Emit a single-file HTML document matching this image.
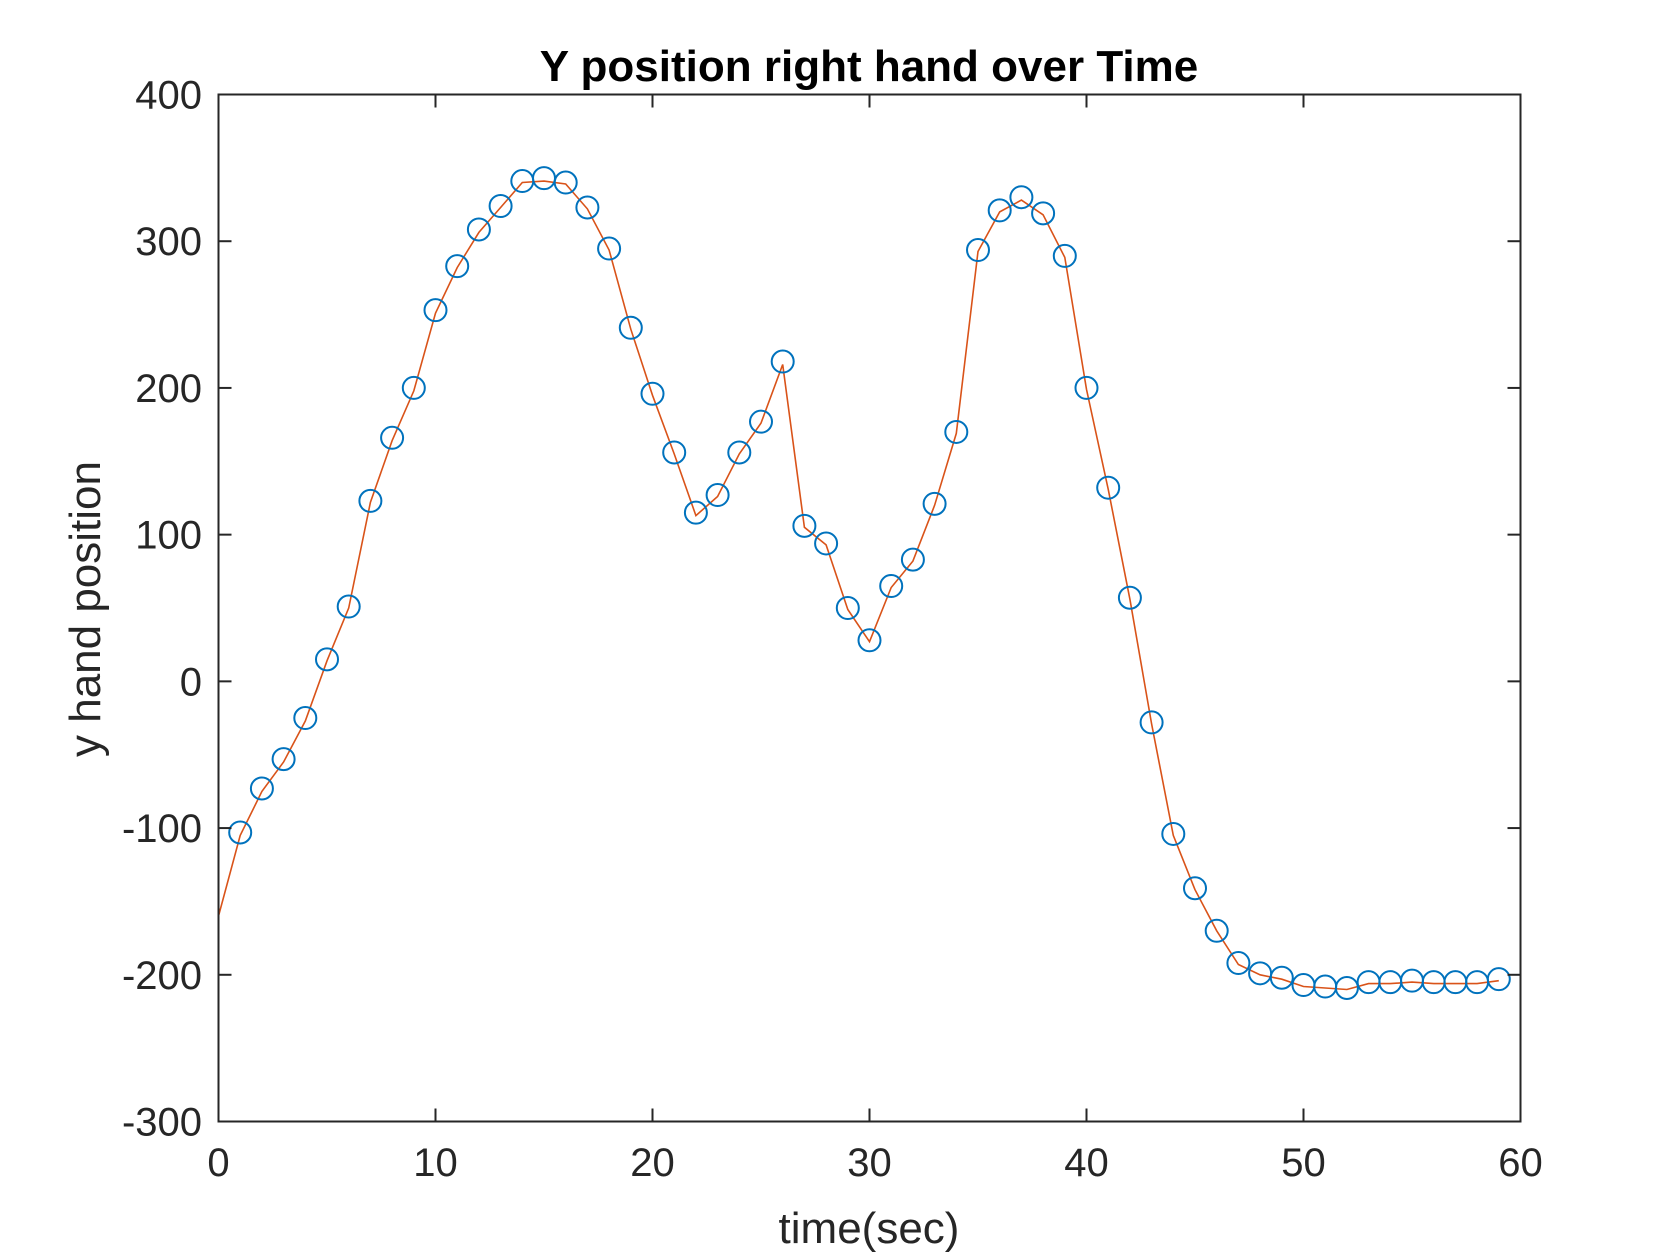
<!DOCTYPE html>
<html><head><meta charset="utf-8"><style>
html,body{margin:0;padding:0;background:#fff;}
svg{display:block;font-family:"Liberation Sans",Arial,sans-serif;}
</style></head><body>
<svg id="chart" width="1680" height="1260" viewBox="0 0 1680 1260">
<rect width="1680" height="1260" fill="#fff"/>
<g id="grid"></g>
<g id="series"></g>
<rect x="218.5" y="94.5" width="1302" height="1027" fill="none" stroke="#262626" stroke-width="2"/>
<g id="axes"></g>
<text x="869" y="81" text-anchor="middle" font-size="44" font-weight="bold" fill="#000">Y position right hand over Time</text>
<text x="869" y="1243" text-anchor="middle" font-size="44" fill="#262626">time(sec)</text>
<text transform="translate(100,609) rotate(-90)" text-anchor="middle" font-size="44" fill="#262626">y hand position</text>
</svg>
<script>
const circleX = [1,2,3,4,5,6,7,8,9,10,11,12,13,14,15,16,17,18,19,20,21,22,23,24,25,26,27,28,29,30,31,32,33,34,35,36,37,38,39,40,41,42,43,44,45,46,47,48,49,50,51,52,53,54,55,56,57,58,59];
const circleY = [-103,-73,-53,-25,15,51,123,166,200,253,283,308,324,341,343,340,323,295,241,196,156,115,127,156,177,218,106,94,50,28,65,83,121,170,294,321,330,319,290,200,132,57,-28,-104,-141,-170,-192,-199,-202,-207,-208,-209,-205,-205,-204,-205,-205,-205,-203];
const lineX = [0,1,2,3,4,5,6,7,8,9,10,11,12,13,14,15,16,17,18,19,20,21,22,23,24,25,26,27,28,29,30,31,32,33,34,35,36,37,38,39,40,41,42,43,44,45,46,47,48,49,50,51,52,53,54,55,56,57,58,59];
const lineY = [-160,-105,-75,-55,-27,14,50,122,164,198,251,282,306,323,340,341,339,322,294,240,195,155,113,126,155,176,216,105,93,49,27,64,82,120,169,293,320,328,318,289,199,131,56,-29,-105,-142,-170,-193,-200,-203,-208,-209,-210,-206,-206,-205,-206,-206,-206,-204];
const xTicks = [0,10,20,30,40,50,60];
const yTicks = [-300,-200,-100,0,100,200,300,400];

const L=218.5,R=1520.5,T=94.5,B=1121.5;
const xs = v => L + (v-0)/(60-0)*(R-L);
const ys = v => B - (v+300)/(700)*(B-T);
const NS="http://www.w3.org/2000/svg";
function mk(tag, attrs, parent){const e=document.createElementNS(NS,tag);for(const k in attrs)e.setAttribute(k,attrs[k]);parent.appendChild(e);return e;}
const axes=document.getElementById('axes'), series=document.getElementById('series');

xTicks.forEach(t=>{
  const x=xs(t);
  const a=mk('line',{x1:x,x2:x,y1:B,y2:B-13,stroke:'#262626','stroke-width':2},axes);
  
  
  const b=mk('line',{x1:x,x2:x,y1:T,y2:T+13,stroke:'#262626','stroke-width':2},axes);
  
  
  const tx=mk('text',{x:x,y:1176,'text-anchor':'middle','font-size':40,fill:'#262626'},axes);
  tx.textContent=t;
  
  
});
yTicks.forEach(t=>{
  const y=ys(t);
  const a=mk('line',{x1:L,x2:L+13,y1:y,y2:y,stroke:'#262626','stroke-width':2},axes);
  
  
  const b=mk('line',{x1:R,x2:R-13,y1:y,y2:y,stroke:'#262626','stroke-width':2},axes);
  
  
  const tx=mk('text',{x:202,y:y+14,'text-anchor':'end','font-size':40,fill:'#262626'},axes);
  tx.textContent=t;
  
  
});

const pts=lineX.map((x,i)=>xs(x).toFixed(1)+','+ys(lineY[i]).toFixed(1)).join(' ');
const pl=mk('polyline',{points:pts,fill:'none',stroke:'#D95319','stroke-width':1.6},series);



circleX.forEach((x,i)=>{
  const c=mk('circle',{cx:xs(x),cy:ys(circleY[i]),r:11,fill:'none',stroke:'#0072BD','stroke-width':2},series);
  
  
});
</script>
</body></html>
